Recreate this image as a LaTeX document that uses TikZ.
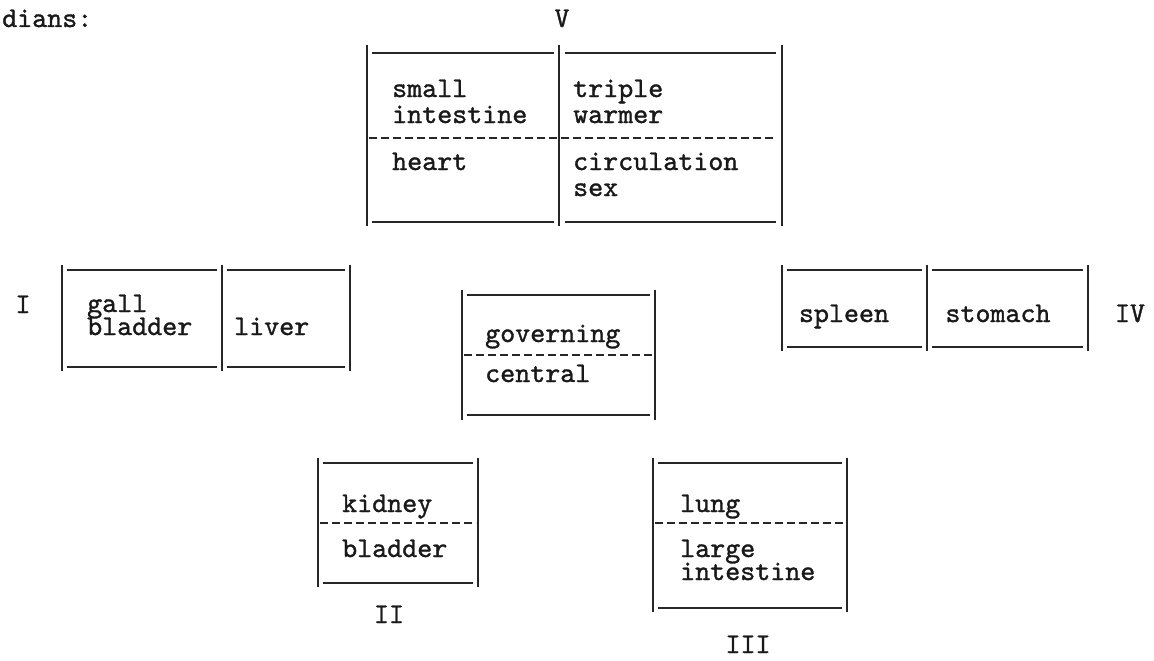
\documentclass[tikz,border=0pt]{standalone}
\usepackage{fontspec}
\newfontfamily\tw[FakeBold=1.2]{lmmono10-regular.otf}
\begin{document}
\begin{tikzpicture}[x=1pt,y=-1pt,
  rule/.style={line width=2pt,draw=black!85},
  dashrule/.style={line width=2.2pt,draw=black!85,dash pattern=on 8pt off 4pt},
  lbl/.style={font=\tw\fontsize{28.6}{28}\selectfont,text=black!90,anchor=base west,inner sep=0pt},
  num/.style={font=\tw\fontsize{28.6}{28}\selectfont,text=black!90,anchor=base,inner sep=0pt}]
\useasboundingbox (0,0) rectangle (1154,661);
% heading
\node[lbl] (head) at (2,27) {dians:};
\node[num] (nV) at (562,27) {V};
% ---- box V
\draw[rule] (367,45) -- (367,226);
\draw[rule] (559,45) -- (559,226);
\draw[rule] (782,45) -- (782,226);
\draw[rule] (372,53) -- (554,53);
\draw[rule] (565,53) -- (776,53);
\draw[rule] (372,222) -- (554,222);
\draw[rule] (565,222) -- (776,222);
\draw[dashrule] (369,138) -- (557,138);
\draw[dashrule] (561,138) -- (774,138);
\node[lbl] (si1) at (392,97) {small};
\node[lbl] (si2) at (392,123) {intestine};
\node[lbl] (tw1) at (573,97) {triple};
\node[lbl] (tw2) at (573,123) {warmer};
\node[lbl] (ht) at (392,170) {heart};
\node[lbl] (cs1) at (573,170) {circulation};
\node[lbl] (cs2) at (573,196) {sex};
% ---- box I
\node[num] (nI) at (23,313) {I};
\draw[rule] (62,265) -- (62,371);
\draw[rule] (222,265) -- (222,371);
\draw[rule] (350,265) -- (350,371);
\draw[rule] (67,270) -- (217,270);
\draw[rule] (227,270) -- (345,270);
\draw[rule] (67,367) -- (217,367);
\draw[rule] (227,367) -- (345,367);
\node[lbl] (gb1) at (87,312) {gall};
\node[lbl] (gb2) at (87,335) {bladder};
\node[lbl] (lv) at (234,335) {liver};
% ---- box IV
\draw[rule] (782,265) -- (782,351);
\draw[rule] (927,265) -- (927,351);
\draw[rule] (1088,265) -- (1088,351);
\draw[rule] (787,270) -- (922,270);
\draw[rule] (932,270) -- (1083,270);
\draw[rule] (787,347) -- (922,347);
\draw[rule] (932,347) -- (1083,347);
\node[num] (sp) at (844,322) {spleen};
\node[num] (st) at (998,322) {stomach};
\node[num] (nIV) at (1130,322) {IV};
% ---- governing / central
\draw[rule] (462,290) -- (462,420);
\draw[rule] (655,290) -- (655,420);
\draw[rule] (467,295) -- (650,295);
\draw[rule] (467,415) -- (650,415);
\draw[dashrule] (464,355) -- (653,355);
\node[lbl] (gov) at (485,342) {governing};
\node[lbl] (cen) at (485,382) {central};
% ---- box II
\draw[rule] (318,458) -- (318,587);
\draw[rule] (478,458) -- (478,587);
\draw[rule] (323,463) -- (473,463);
\draw[rule] (323,583) -- (473,583);
\draw[dashrule] (320,523) -- (476,523);
\node[lbl] (kd) at (342,512) {kidney};
\node[lbl] (bl) at (342,557) {bladder};
\node[num] (nII) at (389,623) {II};
% ---- box III
\draw[rule] (653,458) -- (653,612);
\draw[rule] (847,458) -- (847,612);
\draw[rule] (658,463) -- (842,463);
\draw[rule] (658,608) -- (842,608);
\draw[dashrule] (655,523) -- (845,523);
\node[lbl] (lu) at (680,512) {lung};
\node[lbl] (li1) at (680,557) {large};
\node[lbl] (li2) at (680,580) {intestine};
\node[num] (nIII) at (748,653) {III};
\end{tikzpicture}
\end{document}
